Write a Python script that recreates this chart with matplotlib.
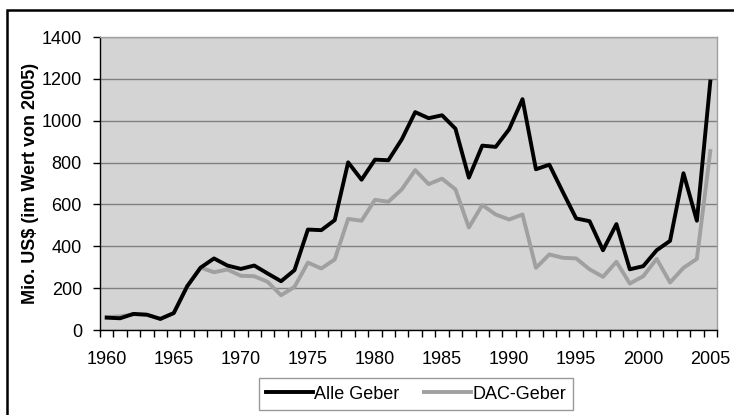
import numpy as np
import matplotlib
matplotlib.use("Agg")
import matplotlib.pyplot as plt
from matplotlib.patches import Rectangle

plt.rcParams['font.family'] = ['Liberation Sans', 'DejaVu Sans']

years = list(range(1960, 2006))
alle_geber = [59, 56, 77, 73, 53, 81, 209, 298, 342, 308, 292, 308,
              270, 233, 286, 480, 477, 525, 801, 718, 814, 811, 911,
              1041, 1012, 1026, 962, 728, 881, 875, 959, 1103, 768, 790,
              660, 533, 520, 381, 506, 290, 305, 381, 426, 749, 522, 1187]
dac_geber = [62, 65, 75, 73, 53, 81, 209, 298, 276, 289, 259, 257,
             230, 166, 206, 322, 294, 337, 531, 522, 622, 613, 672,
             764, 697, 723, 672, 490, 597, 552, 528, 552, 297, 361,
             345, 342, 290, 254, 326, 222, 257, 340, 227, 297, 340, 855]

fs = 13

fig = plt.figure(figsize=(7.34, 4.15), dpi=100)
ax = fig.add_axes([100/734, 85/415, 617/734, 293/415])
ax.set_facecolor('#d4d4d4')

ax.plot(years, alle_geber, color='black', lw=2.8, label='Alle Geber', zorder=3)
ax.plot(years, dac_geber, color='#a0a0a0', lw=2.8, label='DAC-Geber', zorder=2)

ax.set_xlim(1959.5, 2005.5)
ax.set_ylim(0, 1400)
ax.set_yticks(range(0, 1401, 200))
ax.yaxis.grid(True, color='#808080', lw=1)
ax.set_axisbelow(True)

ax.set_xticks(range(1960, 2006, 5))
ax.set_xticks(np.arange(1959.5, 2006, 1), minor=True)
ax.tick_params(axis='x', which='major', length=0, pad=15, labelsize=fs)
ax.tick_params(axis='x', which='minor', length=5, width=1, color='black')
ax.tick_params(axis='y', length=5, width=1, labelsize=fs, pad=8)

for s in ['top', 'right']:
    ax.spines[s].set_color('#a0a0a0')
    ax.spines[s].set_linewidth(1)
for s in ['left', 'bottom']:
    ax.spines[s].set_color('black')
    ax.spines[s].set_linewidth(1)

ax.set_ylabel('Mio. US$ (im Wert von 2005)', fontsize=fs, fontweight='bold', labelpad=2)

leg = fig.legend(loc='center', bbox_to_anchor=(416/734, 1 - 394/415), ncol=2,
                 fontsize=fs, frameon=True, fancybox=False, handlelength=2.6,
                 columnspacing=1.4, borderpad=0.4, handletextpad=0.05)
leg.get_frame().set_edgecolor('#808080')
leg.get_frame().set_linewidth(1)

fig.add_artist(Rectangle((7/734, -0.1), 1.2, 1.1 - 10/415, transform=fig.transFigure,
                         fill=False, edgecolor='black', lw=1.8, clip_on=False))

fig.savefig('out.png', dpi=100)
